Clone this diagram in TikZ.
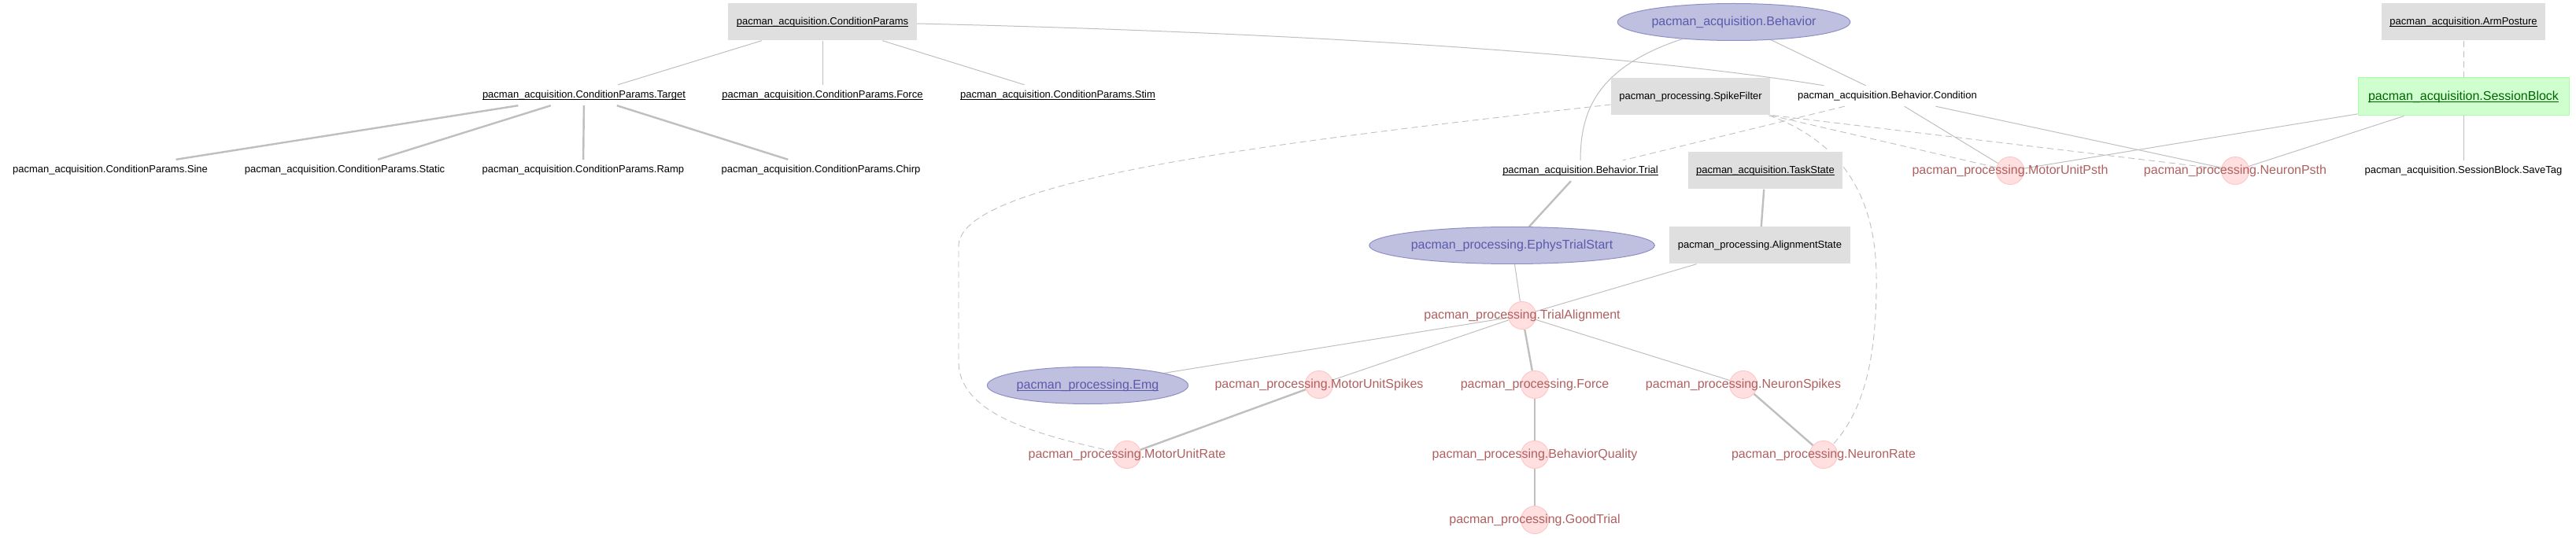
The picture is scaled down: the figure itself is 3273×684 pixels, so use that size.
\documentclass[tikz,border=0pt]{standalone}
\usepackage{fontspec}
\setmainfont{Liberation Sans}
\usetikzlibrary{shapes.geometric}
\definecolor{lkfill}{RGB}{223,223,223}
\definecolor{mnfill}{RGB}{207,255,207}
\definecolor{mndraw}{RGB}{168,255,168}
\definecolor{mntext}{RGB}{0,100,0}
\definecolor{imfill}{RGB}{191,191,223}
\definecolor{imdraw}{RGB}{143,143,199}
\definecolor{imtext}{RGB}{90,90,172}
\definecolor{cpfill}{RGB}{255,223,223}
\definecolor{cpdraw}{RGB}{255,200,200}
\definecolor{cptext}{RGB}{175,95,95}
\definecolor{edgec}{RGB}{191,191,191}
\newcommand\smf{\fontsize{13}{15}\selectfont}
\newcommand\lgf{\fontsize{16}{19}\selectfont}
\newsavebox\ulbox
\newcommand\myul[1]{\sbox\ulbox{#1}\rlap{\rule[-0.19em]{\wd\ulbox}{0.075em}}\usebox\ulbox}
\pgfdeclarelayer{bg}
\pgfsetlayers{bg,main}
\begin{document}
\begin{tikzpicture}[x=1pt,y=-1pt,
  lookup/.style={rectangle,fill=lkfill,draw=none,minimum height=47pt,inner xsep=10.5pt,inner ysep=0pt,font=\smf},
  part/.style={rectangle,inner xsep=5pt,inner ysep=0pt,minimum height=26pt,font=\smf},
  manual/.style={rectangle,fill=mnfill,draw=mndraw,line width=1pt,minimum height=48pt,inner xsep=13pt,inner ysep=0pt,font=\lgf,text=mntext},
  imported/.style={ellipse,fill=imfill,draw=imdraw,line width=1pt,minimum height=47pt,inner sep=0pt,font=\lgf,text=imtext},
  comp/.style={circle,fill=cpfill,draw=cpdraw,line width=1pt,minimum size=35pt,inner sep=0pt},
  comptext/.style={font=\lgf,text=cptext,inner sep=0pt},
  thinedge/.style={draw=edgec,line width=1pt},
  thickedge/.style={draw=edgec,line width=2.4pt},
  dashedge/.style={draw=edgec,line width=0.9pt,dash pattern=on 8pt off 5pt},
]
\useasboundingbox (0,0) rectangle (3273,684);

% row 1
\node[lookup] (cp) at (1045,28) {\myul{pacman\_acquisition.ConditionParams}};
\node[imported,minimum width=290pt] (beh) at (2203,28) {pacman\_acquisition.Behavior};
\node[lookup] (arm) at (3130,28) {\myul{pacman\_acquisition.ArmPosture}};

% row 2
\node[part] (target) at (742,121) {\myul{pacman\_acquisition.ConditionParams.Target}};
\node[part] (force) at (1045,121) {\myul{pacman\_acquisition.ConditionParams.Force}};
\node[part] (stim) at (1344,121) {\myul{pacman\_acquisition.ConditionParams.Stim}};
\node[lookup] (sf) at (2148,123) {pacman\_processing.SpikeFilter};
\node[part] (cond) at (2398,122) {pacman\_acquisition.Behavior.Condition};
\node[manual] (sb) at (3130,123) {\myul{pacman\_acquisition.SessionBlock}};

% row 3
\node[part] (sine) at (140,216) {pacman\_acquisition.ConditionParams.Sine};
\node[part] (static) at (438,216) {pacman\_acquisition.ConditionParams.Static};
\node[part] (ramp) at (741,216) {pacman\_acquisition.ConditionParams.Ramp};
\node[part] (chirp) at (1043,216) {pacman\_acquisition.ConditionParams.Chirp};
\node[part] (trial) at (2008,217) {\myul{pacman\_acquisition.Behavior.Trial}};
\node[lookup] (task) at (2243,217) {\myul{pacman\_acquisition.TaskState}};
\node[comp] (mup) at (2554,217) {};
\node[comptext] (mupt) at (mup) {pacman\_processing.MotorUnitPsth};
\node[comp] (np) at (2840,217) {};
\node[comptext] (npt) at (np) {pacman\_processing.NeuronPsth};
\node[part] (save) at (3130,217) {pacman\_acquisition.SessionBlock.SaveTag};

% row 4
\node[imported,minimum width=349pt] (ets) at (1921,312) {pacman\_processing.EphysTrialStart};
\node[lookup] (as) at (2236,312) {pacman\_processing.AlignmentState};

% row 5
\node[comp] (ta) at (1934,401) {};
\node[comptext] (tat) at (ta) {pacman\_processing.TrialAlignment};

% row 6
\node[imported,minimum width=253pt] (emg) at (1382,490) {\myul{pacman\_processing.Emg}};
\node[comp] (mus) at (1676,489) {};
\node[comptext] (must) at (mus) {pacman\_processing.MotorUnitSpikes};
\node[comp] (frc) at (1950,489) {};
\node[comptext] (frct) at (frc) {pacman\_processing.Force};
\node[comp] (ns) at (2215,489) {};
\node[comptext] (nst) at (ns) {pacman\_processing.NeuronSpikes};

% row 7
\node[comp] (mur) at (1432,578) {};
\node[comptext] (murt) at (mur) {pacman\_processing.MotorUnitRate};
\node[comp] (bq) at (1950,578) {};
\node[comptext] (bqt) at (bq) {pacman\_processing.BehaviorQuality};
\node[comp] (nr) at (2317,578) {};
\node[comptext] (nrt) at (nr) {pacman\_processing.NeuronRate};

% row 8
\node[comp] (gt) at (1950,661) {};
\node[comptext] (gtt) at (gt) {pacman\_processing.GoodTrial};

\begin{pgfonlayer}{bg}
% thin solid
\draw[thinedge] (cp) -- (target);
\draw[thinedge] (cp) -- (force);
\draw[thinedge] (cp) -- (stim);
\draw[thinedge] ([yshift=-2pt]cp.east) .. controls (1600,40) and (2050,65) .. (cond);
\draw[thinedge] (beh) .. controls (2030,85) and (2008,140) .. (trial);
\draw[thinedge] (beh) -- (cond);
\draw[thinedge] (cond) -- (mup);
\draw[thinedge] (cond) -- (np);
\draw[thinedge] (sb) -- (mup);
\draw[thinedge] (sb) -- (np);
\draw[thinedge] (sb) -- (save);
\draw[thinedge] (ets) -- (ta);
\draw[thinedge] (as) -- (ta);
\draw[thinedge] (ta) -- (emg);
\draw[thinedge] (ta) -- (mus);
\draw[thinedge] (ta) -- (ns);
% thick solid
\draw[thickedge] (target) -- (sine);
\draw[thickedge] (target) -- (static);
\draw[thickedge] (target) -- (ramp);
\draw[thickedge] (target) -- (chirp);
\draw[thickedge] (trial) -- (ets);
\draw[thickedge] (task) -- (as);
\draw[thickedge] (ta) -- (frc);
\draw[thickedge] (frc) -- (bq);
\draw[thickedge] (bq) -- (gt);
\draw[thickedge] (mus) -- (mur);
\draw[thickedge] (ns) -- (nr);
% dashed
\draw[dashedge] (arm) -- (sb);
\draw[dashedge] (cond) -- (trial);
\draw[dashedge] (sf.south east) -- (mup);
\draw[dashedge] ([xshift=3pt]sf.south east) -- (np);
\draw[dashedge] ([yshift=-10pt]sf.west) .. controls (1600,183) and (1218,230) .. (1218,313)
  -- (1218,460) .. controls (1218,530) and (1330,555) .. (mur);
\draw[dashedge] ([xshift=-2pt]sf.south east) .. controls (2340,180) and (2383,250) .. (2384,350)
  .. controls (2385,450) and (2370,520) .. (nr);
\end{pgfonlayer}
\end{tikzpicture}
\end{document}
